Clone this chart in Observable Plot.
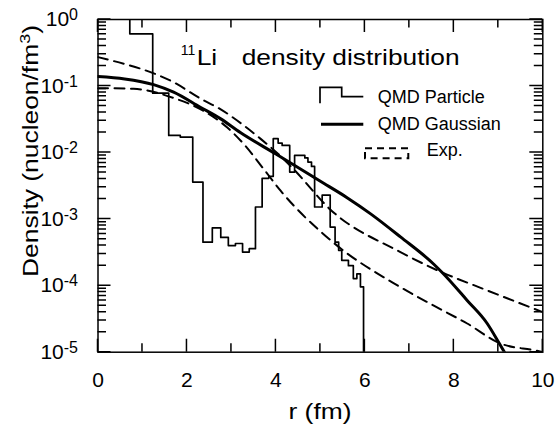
<!DOCTYPE html>
<html><head><meta charset="utf-8">
<script src="https://cdn.jsdelivr.net/npm/d3@7"></script>
<script src="https://cdn.jsdelivr.net/npm/@observablehq/plot@0.6"></script>
<style>
body{margin:0;background:#fff}
svg{font-family:"Liberation Sans",Arial,Helvetica,sans-serif}
</style>
</head><body><div id="chart"></div>
<script>
const FONT = '"Liberation Sans", Arial, Helvetica, sans-serif';

// ---- data ----
// QMD Particle histogram: left bin edges (fm) and density (nucleon/fm^3); first/last values are off-scale
const particleR = [0, 0.715, 1.23, 1.59, 1.85, 2.13, 2.36, 2.57, 2.76, 2.93, 3.09, 3.25, 3.40, 3.54, 3.69, 3.84, 3.94, 4.05, 4.14, 4.31, 4.42, 4.65, 4.72, 4.80, 4.87, 5.04, 5.22, 5.33, 5.41, 5.48, 5.63, 5.74, 5.82, 5.90, 5.97];
const particleD = [3, 0.61, 0.078, 0.0181, 0.0171, 0.0036, 4.5e-4, 7.4e-4, 5.3e-4, 4.0e-4, 4.3e-4, 3.2e-4, 3.6e-4, 1.52e-3, 4.1e-3, 4.4e-3, 0.0162, 0.0139, 0.0128, 5.1e-3, 9.1e-3, 8.3e-3, 7.2e-3, 6.2e-3, 1.52e-3, 2.3e-3, 7.6e-4, 4.5e-4, 3.4e-4, 2.4e-4, 2.0e-4, 1.28e-4, 1.5e-4, 9.6e-5, 1e-7];

// QMD Gaussian
const gaussR = [0, 0.6, 1.25, 1.7, 2.3, 2.75, 3.2, 4.0, 5.0, 5.6, 6.13, 6.8, 7.55, 7.77, 8.3, 8.75, 9.01, 9.2];
const gaussD = [0.139, 0.128, 0.105, 0.081, 0.048, 0.0324, 0.0200, 0.0095, 0.0037, 0.0021, 0.0012, 0.00054, 0.00021, 0.00015, 0.00006, 0.000027, 0.000014, 0.0000085];

// Exp. (upper band edge)
const expUpperR = [0, 0.58, 0.96, 1.7, 2.3, 2.75, 3.28, 3.65, 4.1, 4.4, 5.22, 6.8, 7.63, 8.67, 10];
const expUpperD = [0.272, 0.216, 0.182, 0.114, 0.065, 0.045, 0.0255, 0.0162, 0.0089, 0.0056, 0.0014, 3.2e-4, 1.7e-4, 8.9e-5, 4.0e-5];

// Exp. (lower band edge)
const expLowerR = [0, 0.8, 1.7, 2.3, 2.9, 3.3, 3.73, 4.1, 5.3, 6.8, 7.55, 8.3, 9.05, 9.87, 10];
const expLowerD = [0.093, 0.091, 0.066, 0.045, 0.024, 0.0129, 0.0056, 0.0027, 4.4e-4, 9.5e-5, 5.0e-5, 2.7e-5, 1.35e-5, 1.05e-5, 1.0e-5];

// ticks
const xTicksMajor = [0, 2, 4, 6, 8, 10];
const xTickLabels = ["0", "2", "4", "6", "8", "10"];
const xTicksMinor = [1, 3, 5, 7, 9];
const yTicksMajor = [1e-5, 1e-4, 1e-3, 1e-2, 1e-1, 1];
const yTickLabels = ["10^-5", "10^-4", "10^-3", "10^-2", "10^-1", "10^0"];
const yMantissas = [2, 3, 4, 5, 6, 7, 8, 9];
const yTicksMinor = yTicksMajor.slice(0, -1).flatMap(d => yMantissas.map(m => m * d));

// ---- layout ----
const W = 557, H = 430, mL = 97.5, mR = 14.7, mT = 19, mB = 78.3;
const majorLen = 13, minorLen = 8.5, tickW = 1.5;

const rows = (R, D) => R.map((r, i) => ({r, d: D[i]}));

const chart = Plot.plot({
  width: W, height: H,
  marginLeft: mL, marginRight: mR, marginTop: mT, marginBottom: mB,
  style: {fontFamily: FONT, fontSize: "21px", color: "black", background: "white"},
  x: {domain: [0, 10]},
  y: {type: "log", domain: [1e-5, 1]},
  marks: [
    Plot.line(rows(expUpperR, expUpperD), {x: "r", y: "d", stroke: "black", strokeWidth: 2, strokeDasharray: "10,6.5", curve: "monotone-x", clip: true}),
    Plot.line(rows(expLowerR, expLowerD), {x: "r", y: "d", stroke: "black", strokeWidth: 2, strokeDasharray: "10,6.5", curve: "monotone-x", clip: true}),
    Plot.line(rows(gaussR, gaussD), {x: "r", y: "d", stroke: "black", strokeWidth: 3, curve: "monotone-x", clip: true}),
    Plot.line(rows(particleR, particleD), {x: "r", y: "d", stroke: "black", strokeWidth: 1.7, curve: "step-after", clip: true}),
    Plot.frame({stroke: "black", strokeWidth: 1.5}),
    // tick labels
    Plot.axisX(xTicksMajor, {anchor: "bottom", tickSize: 0, tickPadding: 20, fontSize: 21, fill: "black",
      tickFormat: d => xTickLabels[xTicksMajor.indexOf(d)], label: null}),
    Plot.axisY(yTicksMajor, {anchor: "left", tickSize: 0, tickPadding: 20, fontSize: 21, fill: "black",
      tickFormat: d => yTickLabels[yTicksMajor.indexOf(d)], label: null})
  ]
});
document.getElementById("chart").appendChild(chart);

const svg = d3.select(chart);
const xs = chart.scale("x"), ys = chart.scale("y");
const fL = xs.apply(0), fR = xs.apply(10), fB = ys.apply(1e-5), fT = ys.apply(1);

// inward ticks on all four sides, positioned through Plot's scales
const tg = svg.append("g").attr("stroke", "black").attr("stroke-width", tickW).attr("fill", "none");
const xTickSet = xTicksMajor.map(v => [v, majorLen]).concat(xTicksMinor.map(v => [v, minorLen]));
const yTickSet = yTicksMajor.map(v => [v, majorLen]).concat(yTicksMinor.map(v => [v, minorLen]));
tg.selectAll("path.xt").data(xTickSet).join("path").attr("class", "xt")
  .attr("d", ([v, l]) => { const px = xs.apply(v); return `M${px},${fB}v${-l}M${px},${fT}v${l}`; });
tg.selectAll("path.yt").data(yTickSet).join("path").attr("class", "yt")
  .attr("d", ([v, l]) => { const py = ys.apply(v); return `M${fL},${py}h${l}M${fR},${py}h${-l}`; });

// superscripts in y tick labels
svg.selectAll("text").each(function () {
  const t = this.textContent;
  const k = t.indexOf("^");
  if (k < 0) return;
  const s = d3.select(this);
  s.text(null);
  s.append("tspan").text(t.slice(0, k));
  s.append("tspan").attr("dy", -6).attr("font-size", "16px").text(t.slice(k + 1));
});

const ann = svg.append("g").attr("fill", "black").attr("font-family", FONT).attr("text-anchor", "start");

// axis titles
const yl = ann.append("text").attr("transform", "translate(38,151) rotate(-90) scale(1.2,1)")
  .attr("text-anchor", "middle").attr("font-size", 22);
yl.append("tspan").text("Density (nucleon/fm");
yl.append("tspan").attr("dy", -8).attr("font-size", 15).text("3");
yl.append("tspan").attr("dy", 8).text(")");

ann.append("text").attr("transform", "translate(320,419) scale(1.2,1)")
  .attr("text-anchor", "middle").attr("font-size", 22).text("r (fm)");

// title
ann.append("text").attr("x", 180.7).attr("y", 55).attr("font-size", 14).text("11");
ann.append("text").attr("transform", "translate(196.7,65) scale(1.2,1)").attr("font-size", 22).text("Li");
ann.append("text").attr("transform", "translate(241.7,65) scale(1.196,1)").attr("font-size", 22).text("density distribution");

// legend
const lg = ann.append("g");
lg.append("path").attr("d", "M320,103.3V87.3H341.7V96.7H363.3").attr("fill", "none").attr("stroke", "black").attr("stroke-width", 1.7);
lg.append("text").attr("x", 377.7).attr("y", 102.7).attr("font-size", 18).text("QMD Particle");
lg.append("path").attr("d", "M321,124.3H363.3").attr("fill", "none").attr("stroke", "black").attr("stroke-width", 3);
lg.append("text").attr("x", 377.7).attr("y", 130).attr("font-size", 18).text("QMD Gaussian");
lg.append("rect").attr("x", 365).attr("y", 148.3).attr("width", 43.3).attr("height", 10)
  .attr("fill", "none").attr("stroke", "black").attr("stroke-width", 2).attr("stroke-dasharray", "7,5");
lg.append("text").attr("x", 426.7).attr("y", 155.5).attr("font-size", 18).text("Exp.");
</script></body></html>
